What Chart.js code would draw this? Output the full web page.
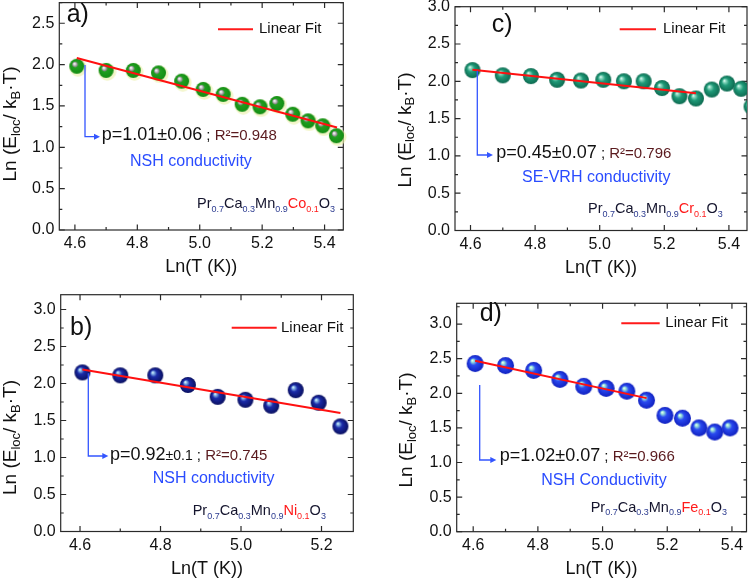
<!DOCTYPE html>
<html><head><meta charset="utf-8">
<script src="https://cdn.jsdelivr.net/npm/chart.js@4.4.1/dist/chart.umd.min.js"></script>
<style>
html,body{margin:0;padding:0;background:#fff;width:756px;height:580px;overflow:hidden;position:relative}
canvas{position:absolute}
</style></head><body>
<canvas id="ca" width="378" height="310" style="left:0;top:-20px;width:378px;height:310px"></canvas>
<canvas id="cc" width="378" height="310" style="left:378px;top:-20px;width:378px;height:310px"></canvas>
<canvas id="cb" width="378" height="310" style="left:0;top:270px;width:378px;height:310px"></canvas>
<canvas id="cd" width="378" height="310" style="left:378px;top:270px;width:378px;height:310px"></canvas>
<script>
// ---------------- data ----------------
const lnT_a = [4.606, 4.700, 4.787, 4.868, 4.942, 5.011, 5.075, 5.136, 5.193, 5.247, 5.298, 5.347, 5.394, 5.438];
const lnE_a = [1.98, 1.93, 1.93, 1.90, 1.80, 1.70, 1.64, 1.52, 1.49, 1.53, 1.40, 1.32, 1.26, 1.14];
const fitX_a = [4.606, 5.44];
const fitY_a = [2.08, 1.24];

const lnT_c = [4.606, 4.700, 4.787, 4.868, 4.942, 5.011, 5.075, 5.136, 5.193, 5.247, 5.298, 5.347, 5.394, 5.438, 5.470];
const lnE_c = [2.15, 2.08, 2.07, 2.02, 2.01, 2.02, 2.00, 2.00, 1.91, 1.80, 1.77, 1.89, 1.97, 1.90, 1.66];
const fitX_c = [4.606, 5.298];
const fitY_c = [2.155, 1.84];

const lnT_b = [4.606, 4.700, 4.787, 4.868, 4.942, 5.011, 5.075, 5.136, 5.193, 5.247];
const lnE_b = [2.15, 2.11, 2.11, 1.98, 1.82, 1.78, 1.70, 1.91, 1.74, 1.42];
const fitX_b = [4.606, 5.247];
const fitY_b = [2.19, 1.60];

const lnT_d = [4.606, 4.700, 4.787, 4.868, 4.942, 5.011, 5.075, 5.136, 5.193, 5.247, 5.298, 5.347, 5.394];
const lnE_d = [2.43, 2.40, 2.33, 2.20, 2.10, 2.07, 2.03, 1.90, 1.68, 1.64, 1.50, 1.44, 1.50];
const fitX_d = [4.606, 5.136];
const fitY_d = [2.47, 1.93];

const xTicks_a = [4.6, 4.8, 5.0, 5.2, 5.4];
const yTicks_a = [0, 0.5, 1.0, 1.5, 2.0, 2.5];
const xTicks_c = [4.6, 4.8, 5.0, 5.2, 5.4];
const yTicks_c = [0, 0.5, 1.0, 1.5, 2.0, 2.5, 3.0];
const xTicks_b = [4.6, 4.8, 5.0, 5.2];
const yTicks_b = [0, 0.5, 1.0, 1.5, 2.0, 2.5, 3.0];
const xTicks_d = [4.6, 4.8, 5.0, 5.2, 5.4];
const yTicks_d = [0, 0.5, 1.0, 1.5, 2.0, 2.5, 3.0];

const xTitle = 'Ln(T (K))';
const legendText = 'Linear Fit';
// --------------------------------------------------------------

const FF = '"Liberation Sans", Arial, sans-serif';
const OY = 20;
const TXT = '#111111';

function sphere(r, stops, halo) {
  const s = Math.ceil(2 * r + 6);
  const c = document.createElement('canvas');
  c.width = s; c.height = s;
  const g = c.getContext('2d');
  const cx = s / 2, cy = s / 2;
  if (halo) {
    g.fillStyle = halo;
    g.beginPath(); g.arc(cx + 1.2, cy + 1.4, r + 1.3, 0, Math.PI * 2); g.fill();
  }
  const grad = g.createRadialGradient(cx - r * 0.35, cy - r * 0.38, r * 0.02, cx, cy, r);
  stops.forEach(st => grad.addColorStop(st[0], st[1]));
  g.fillStyle = grad;
  g.beginPath(); g.arc(cx, cy, r, 0, Math.PI * 2); g.fill();
  return c;
}

function rich(ctx, segs, x, y, align) {
  let w = 0;
  segs.forEach(s => { ctx.font = s[1] + 'px ' + FF; w += ctx.measureText(s[0]).width; });
  let cx = align === 'center' ? x - w / 2 : x;
  segs.forEach(s => {
    ctx.font = s[1] + 'px ' + FF;
    ctx.fillStyle = s[2];
    ctx.fillText(s[0], cx, y + (s[3] || 0));
    cx += ctx.measureText(s[0]).width;
  });
  return cx;
}

function formulaSegs(dop) {
  const M = '#15152e', S = '#2b3a8f', R = '#ff1a1a';
  return [['Pr', 14.5, M], ['0.7', 9, S, 3.5], ['Ca', 14.5, M], ['0.3', 9, S, 3.5], ['Mn', 14.5, M], ['0.9', 9, S, 3.5],
          [dop, 14.5, R], ['0.1', 9, R, 3.5], ['O', 14.5, M], ['3', 9, S, 3.5]];
}

function makeChart(id, d) {
  const deco = {
    id: 'deco' + id,
    beforeDatasetsDraw(chart) {
      const ctx = chart.ctx, a = chart.chartArea, xs = chart.scales.x, ys = chart.scales.y;
      ctx.save();
      ctx.strokeStyle = '#2a2a2a'; ctx.lineWidth = 1.2;
      ctx.strokeRect(a.left, a.top, a.right - a.left, a.bottom - a.top);
      ctx.beginPath();
      const majL = 5.5, minL = 3;
      for (let v = Math.ceil(d.xmin / 0.1 - 1e-6) * 0.1; v <= d.xmax + 1e-9; v += 0.1) {
        const px = xs.getPixelForValue(v);
        const maj = Math.abs(v / 0.2 - Math.round(v / 0.2)) < 1e-4;
        const L = maj ? majL : minL;
        ctx.moveTo(px, a.bottom); ctx.lineTo(px, a.bottom - L);
        ctx.moveTo(px, a.top); ctx.lineTo(px, a.top + L);
      }
      for (let v = 0; v <= d.ymax + 1e-9; v += 0.25) {
        const py = ys.getPixelForValue(v);
        const maj = Math.abs(v / 0.5 - Math.round(v / 0.5)) < 1e-4;
        const L = maj ? majL : minL;
        ctx.moveTo(a.left, py); ctx.lineTo(a.left + L, py);
        ctx.moveTo(a.right, py); ctx.lineTo(a.right - L, py);
      }
      ctx.stroke();
      ctx.restore();
    },
    afterDatasetsDraw(chart) {
      const ctx = chart.ctx;
      ctx.save();
      // panel letter
      ctx.font = '25px ' + FF; ctx.fillStyle = TXT; ctx.textBaseline = 'middle';
      ctx.fillText(d.label, d.labelPos[0], d.labelPos[1] + OY);
      // legend
      ctx.strokeStyle = '#ff1a1a'; ctx.lineWidth = 2;
      ctx.beginPath(); ctx.moveTo(d.leg[0], d.leg[2] + OY); ctx.lineTo(d.leg[1], d.leg[2] + OY); ctx.stroke();
      ctx.font = '15px ' + FF; ctx.fillStyle = TXT;
      ctx.fillText(legendText, d.leg[3], d.leg[2] + OY);
      // arrow
      const ar = d.arrow;
      ctx.strokeStyle = '#3355ff'; ctx.fillStyle = '#3355ff'; ctx.lineWidth = 1.3;
      ctx.beginPath(); ctx.moveTo(ar[0], ar[1] + OY); ctx.lineTo(ar[0], ar[2] + OY); ctx.lineTo(ar[3] - 5, ar[2] + OY); ctx.stroke();
      ctx.beginPath(); ctx.moveTo(ar[3], ar[2] + OY); ctx.lineTo(ar[3] - 6, ar[2] + OY - 3); ctx.lineTo(ar[3] - 6, ar[2] + OY + 3); ctx.closePath(); ctx.fill();
      // p text + R2
      ctx.textBaseline = 'alphabetic';
      const end = rich(ctx, d.pSegs, d.pPos[0], d.pPos[1] + OY, 'left');
      rich(ctx, [[' ; ', 15, TXT], ['R\u00B2=' + d.r2, 15, '#5a1a1e']], end, d.pPos[1] + OY, 'left');
      // conductivity
      ctx.font = '16px ' + FF; ctx.fillStyle = '#2a4cff';
      ctx.fillText(d.cond, d.condPos[0], d.condPos[1] + OY);
      // formula
      rich(ctx, formulaSegs(d.dop), d.fPos[0], d.fPos[1] + OY, 'left');
      // y title
      ctx.translate(d.yt[0], d.yt[1] + OY);
      ctx.rotate(-Math.PI / 2);
      ctx.textBaseline = 'middle';
      rich(ctx, [['Ln (E', 19, TXT], ['loc', 13, TXT, 5], ['/ k', 19, TXT], ['B', 13, TXT, 5], ['\u00B7T)', 19, TXT]], 0, 0, 'center');
      ctx.restore();
    }
  };
  return new Chart(document.getElementById(id), {
    type: 'scatter',
    data: {
      datasets: [
        { data: d.fitX.map((x, i) => ({ x: x, y: d.fitY[i] })), showLine: true, borderColor: '#ff1010', borderWidth: 2,
          pointRadius: 0, fill: false, order: 0 },
        { data: d.x.map((x, i) => ({ x: x, y: d.y[i] })), pointStyle: d.ball, pointRadius: d.r, order: 1, clip: d.clip }
      ]
    },
    options: {
      responsive: false, animation: false, events: [],
      layout: { padding: { left: 0, right: d.padR, top: d.padT + OY, bottom: d.padB } },
      plugins: { legend: { display: false }, tooltip: { enabled: false } },
      scales: {
        x: {
          type: 'linear', min: d.xmin, max: d.xmax,
          afterBuildTicks: s => { s.ticks = d.xTicks.map(v => ({ value: v })); },
          afterFit: s => { s.height = 48; },
          grid: { display: false, drawTicks: false }, border: { display: false },
          ticks: { padding: 4, color: TXT, font: { family: FF, size: 16 }, callback: v => Number(v).toFixed(1), maxRotation: 0 },
          title: { display: true, text: xTitle, color: TXT, font: { family: FF, size: 18 }, padding: 0 }
        },
        y: {
          type: 'linear', min: 0, max: d.ymax,
          afterBuildTicks: s => { s.ticks = d.yTicks.map(v => ({ value: v })); },
          afterFit: s => { s.width = d.axL; },
          grid: { display: false, drawTicks: false }, border: { display: false },
          ticks: { padding: 5, color: TXT, font: { family: FF, size: 16 }, callback: v => Number(v).toFixed(1) }
        }
      }
    },
    plugins: [deco]
  });
}

makeChart('ca', {
  x: lnT_a, y: lnE_a, fitX: fitX_a, fitY: fitY_a, xTicks: xTicks_a, yTicks: yTicks_a,
  xmin: 4.55, xmax: 5.46, ymax: 2.75, axL: 59.3, padR: 34.7, padT: 2.6, padB: 12,
  r: 7.5, clip: false,
  ball: sphere(7.5, [[0, '#ffffff'], [0.12, '#dcdcdc'], [0.3, '#8a8a8a'], [0.4, '#20a020'], [1, '#138c13']], 'rgba(235,240,170,0.65)'),
  label: 'a)', labelPos: [66.7, 15], leg: [218, 253, 29.3, 259], arrow: [85, 65, 136.7, 100],
  pSegs: [['p=1.01\u00B10.06', 18, TXT]], pPos: [101.7, 140], r2: '0.948',
  cond: 'NSH conductivity', condPos: [130, 166], dop: 'Co', fPos: [197, 208], yt: [11, 124]
});

makeChart('cc', {
  x: lnT_c, y: lnE_c, fitX: fitX_c, fitY: fitY_c, xTicks: xTicks_c, yTicks: yTicks_c,
  xmin: 4.552, xmax: 5.456, ymax: 3.0, axL: 77, padR: 7, padT: 6.7, padB: 11.5,
  r: 8, clip: 0,
  ball: sphere(8, [[0, '#f0fffa'], [0.15, '#8fdcc4'], [0.45, '#1f9a78'], [1, '#0d6a50']], null),
  label: 'c)', labelPos: [113.7, 25], leg: [241.7, 278, 29.3, 285], arrow: [99.3, 70.7, 155, 115],
  pSegs: [['p=0.45\u00B10.07', 18, TXT]], pPos: [118.3, 158.3], r2: '0.796',
  cond: 'SE-VRH conductivity', condPos: [144, 181.7], dop: 'Cr', fPos: [210, 213], yt: [27.5, 130]
});

makeChart('cb', {
  x: lnT_b, y: lnE_b, fitX: fitX_b, fitY: fitY_b, xTicks: xTicks_b, yTicks: yTicks_b,
  xmin: 4.552, xmax: 5.279, ymax: 3.2, axL: 60.7, padR: 24.7, padT: 4.7, padB: 0.5,
  r: 8, clip: false,
  ball: sphere(8, [[0, '#eaffff'], [0.15, '#88b8e8'], [0.42, '#1a2aa8'], [1, '#0a1060']], null),
  label: 'b)', labelPos: [70, 38.3], leg: [231.7, 276.7, 37.7, 281], arrow: [88.3, 83.3, 166, 108.3],
  pSegs: [['p=0.92', 18, TXT], ['\u00B10.1', 14, TXT]], pPos: [110, 170], r2: '0.745',
  cond: 'NSH conductivity', condPos: [152.7, 193.3], dop: 'Ni', fPos: [192.7, 225], yt: [11, 147.5]
});

makeChart('cd', {
  x: lnT_d, y: lnE_d, fitX: fitX_d, fitY: fitY_d, xTicks: xTicks_d, yTicks: yTicks_d,
  xmin: 4.549, xmax: 5.445, ymax: 3.3, axL: 78.7, padR: 5, padT: 13.3, padB: 0.3,
  r: 8.5, clip: false,
  ball: sphere(8.5, [[0, '#f4fff4'], [0.15, '#9ce8d8'], [0.42, '#2a4af0'], [1, '#1020c0']], null),
  label: 'd)', labelPos: [101.7, 24], leg: [243.3, 281.7, 33.3, 287.3], arrow: [101.7, 95, 170, 118.3],
  pSegs: [['p=1.02\u00B10.07', 18, TXT]], pPos: [121.7, 170.7], r2: '0.966',
  cond: 'NSH Conductivity', condPos: [163.3, 195], dop: 'Fe', fPos: [212.7, 221.7], yt: [29, 140]
});
</script>
</body></html>
